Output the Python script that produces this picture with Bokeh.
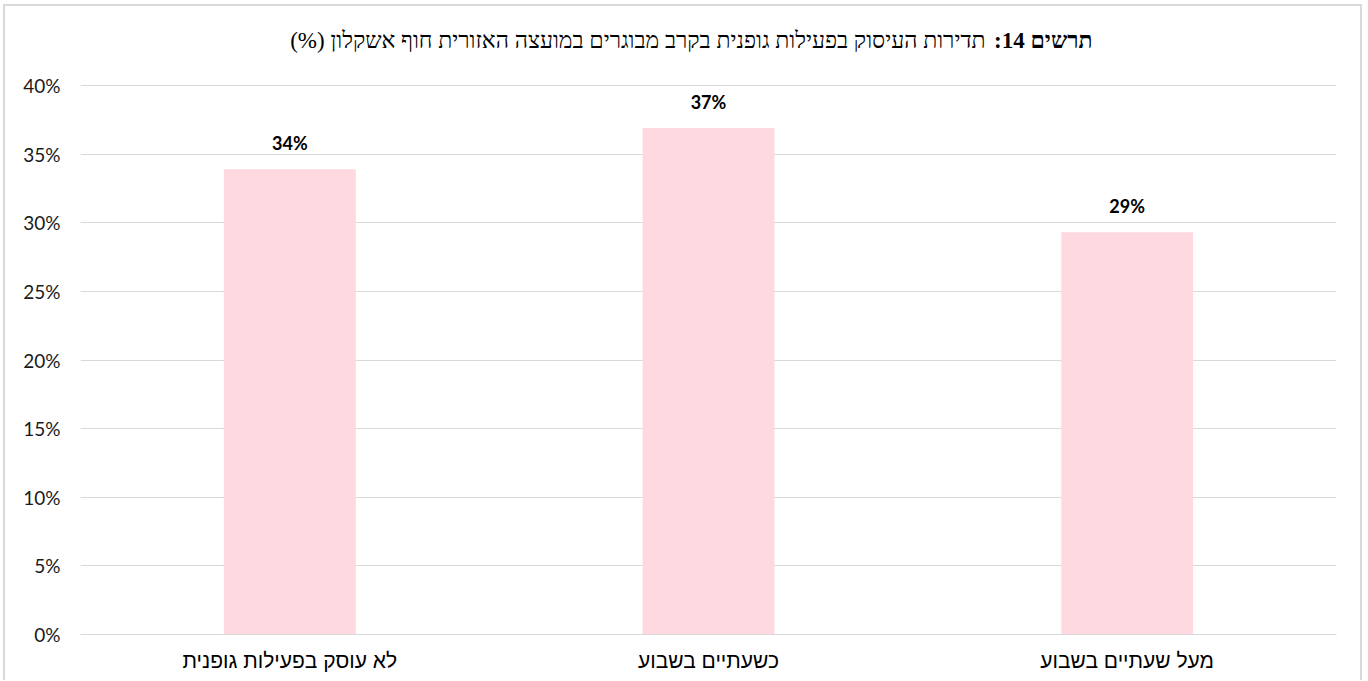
from bokeh.plotting import figure
from bokeh.models import FactorRange, Range1d, FixedTicker, PrintfTickFormatter, Label
from bokeh.embed import file_html
from bokeh.resources import INLINE
from bokeh.core.properties import value

# ---- data ----
categories = ["לא עוסק בפעילות גופנית", "כשעתיים בשבוע", "מעל שעתיים בשבוע"]
values = [33.9, 36.9, 29.3]
value_labels = ["34%", "37%", "29%"]
y_ticks = [0, 5, 10, 15, 20, 25, 30, 35, 40]
title_bold = "תרשים 14:"
title_text = "תדירות העיסוק בפעילות גופנית בקרב מבוגרים במועצה האזורית חוף אשקלון (%)"
RLM = "\u200f"

# ---- layout (canvas pixel coordinates) ----
OX, OY = 5, 6                 # canvas offset inside page (margin + border)
W, H = 1359, 676              # canvas size
FL, FR = 80 - OX, 1336 - OX   # plot area left / right
G0, G40 = 634 - OY, 85 - OY   # 0% and 40% gridline positions
YMAX = 40
px_x = (FR - FL) / len(categories)
px_y = (G0 - G40) / YMAX
Y_TOP = YMAX + G40 / px_y     # frame reaches canvas top, title sits inside it

def sx(px):
    return (px - OX - FL) / px_x

def sy(py):
    return (G0 - (py - OY)) / px_y

p = figure(
    x_range=FactorRange(*categories), y_range=Range1d(0, Y_TOP),
    width=W, height=H, output_backend="svg", toolbar_location=None, title=None,
    min_border_left=FL, min_border_right=W - FR, min_border_top=0, min_border_bottom=H - G0,
)
p.styles = {"margin-left": "3px", "margin-top": "4px",
            "border-style": "solid", "border-color": "#d9d9d9",
            "border-width": "2px 2px 0px 2px"}
p.outline_line_color = None
p.background_fill_color = "white"
p.border_fill_color = "white"
p.xgrid.grid_line_color = None
p.ygrid.grid_line_color = "#d9d9d9"
p.ygrid.grid_line_width = 1

p.yaxis.ticker = FixedTicker(ticks=y_ticks)
p.yaxis.formatter = PrintfTickFormatter(format="%d%%")
p.yaxis.axis_line_color = None
p.yaxis.major_tick_line_color = None
p.yaxis.minor_tick_line_color = None
p.yaxis.major_label_standoff = 14
p.yaxis.major_label_text_font = "Lato"
p.yaxis.major_label_text_font_size = "19px"
p.yaxis.major_label_text_color = "#1a1a1a"

p.xaxis.axis_line_color = "#d9d9d9"
p.xaxis.axis_line_width = 1
p.xaxis.major_tick_line_color = None
p.xaxis.minor_tick_line_color = None
p.xaxis.major_label_standoff = 8
p.xaxis.major_label_text_font = "Liberation Sans"
p.xaxis.major_label_text_font_size = "21px"
p.xaxis.major_label_text_color = "#000000"

p.vbar(x=categories, top=values, width=0.315, fill_color="#ffd9e0", line_color=None)

p.text(x=categories, y=values, text=value_labels, y_offset=-15,
       text_align="center", text_baseline="bottom",
       text_font=value("Lato"), text_font_style="bold", text_font_size="18px",
       text_color="#000000")

# title (bold prefix + regular text, right-to-left)
p.add_layout(Label(x=sx(1092), y=sy(40), text=RLM + title_bold + RLM,
                   text_align="right", text_baseline="middle",
                   text_font="Liberation Serif", text_font_style="bold",
                   text_font_size="23px", text_color="#000000"))
p.add_layout(Label(x=sx(985), y=sy(40), text=RLM + title_text + RLM,
                   text_align="right", text_baseline="middle",
                   text_font="Liberation Serif", text_font_size="23px",
                   text_color="#000000"))

open("out.html", "w").write(file_html(p, INLINE))
